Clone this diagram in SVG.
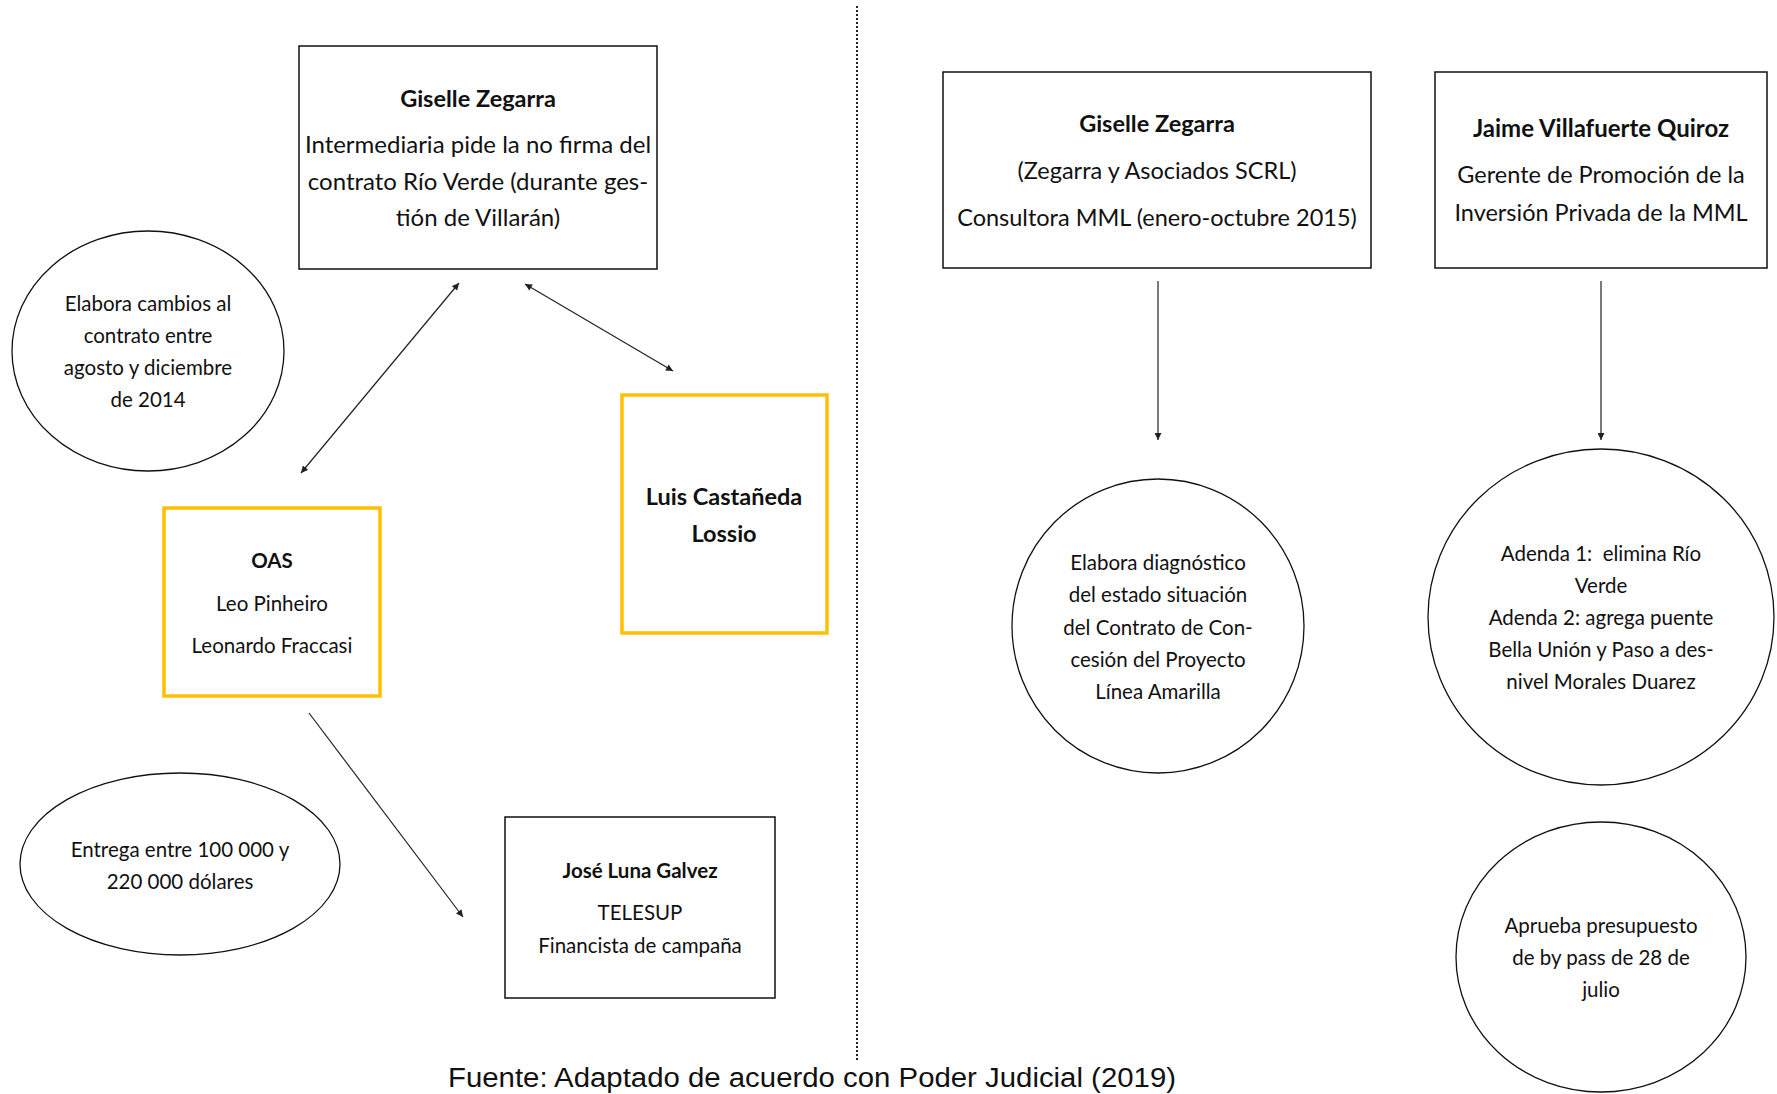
<svg xmlns="http://www.w3.org/2000/svg" width="1777" height="1094" viewBox="0 0 1777 1094">
  <style>
    text { font-family: Lato, "Open Sans", "Liberation Sans", sans-serif; fill: #111; text-anchor: middle; }
    .b { font-weight: bold; }
    .box { fill: #fff; stroke: #111; stroke-width: 1.5; }
    .ybox { fill: #fff; stroke: #FFC000; stroke-width: 3.5; }
    .ell { fill: #fff; stroke: #111; stroke-width: 1.3; }
    .con { fill: none; stroke: #222; stroke-width: 1.2; }
    .t24 { font-size: 24px; }
    .t235 { font-size: 23.5px; }
    .t20 { font-size: 20.5px; }
  </style>
  <defs>
    <marker id="ah" viewBox="0 0 10 10" refX="10" refY="5" markerWidth="8" markerHeight="7" markerUnits="userSpaceOnUse" orient="auto-start-reverse">
      <path d="M0,0 L10,5 L0,10 z" fill="#222"/>
    </marker>
  </defs>
  <rect width="1777" height="1094" fill="#fff"/>

  <!-- divider -->
  <line x1="857" y1="6" x2="857" y2="1060" stroke="#222" stroke-width="2" stroke-dasharray="2 2"/>

  <g id="connectors">
    <line class="con" x1="459" y1="283" x2="301" y2="473" marker-start="url(#ah)" marker-end="url(#ah)"/>
    <line class="con" x1="525" y1="284" x2="673" y2="371" marker-start="url(#ah)" marker-end="url(#ah)"/>
    <line class="con" x1="309" y1="713" x2="463" y2="917" marker-end="url(#ah)"/>
    <line class="con" x1="1158" y1="281" x2="1158" y2="440" marker-end="url(#ah)"/>
    <line class="con" x1="1601" y1="281" x2="1601" y2="440" marker-end="url(#ah)"/>
  </g>

  <g id="giselle-left">
    <rect class="box" x="299" y="46" width="358" height="223"/>
    <text class="b t235" x="478" y="107">Giselle Zegarra</text>
    <text class="t24" x="478" y="153">Intermediaria pide la no firma del</text>
    <text class="t24" x="478" y="190">contrato Río Verde (durante ges-</text>
    <text class="t24" x="478" y="226">tión de Villarán)</text>
  </g>

  <g id="elabora-cambios">
    <ellipse class="ell" cx="148" cy="351" rx="136" ry="120"/>
    <text class="t20" x="148" y="311">Elabora cambios al</text>
    <text class="t20" x="148" y="343">contrato entre</text>
    <text class="t20" x="148" y="375">agosto y diciembre</text>
    <text class="t20" x="148" y="407">de 2014</text>
  </g>

  <g id="oas">
    <rect class="ybox" x="164" y="508" width="216" height="188"/>
    <text class="b t20" x="272" y="568">OAS</text>
    <text class="t20" x="272" y="611">Leo Pinheiro</text>
    <text class="t20" x="272" y="653">Leonardo Fraccasi</text>
  </g>

  <g id="castaneda">
    <rect class="ybox" x="622" y="395" width="205" height="238"/>
    <text class="b t235" x="724" y="505">Luis Castañeda</text>
    <text class="b t235" x="724" y="542">Lossio</text>
  </g>

  <g id="entrega">
    <ellipse class="ell" cx="180" cy="864" rx="160" ry="91"/>
    <text class="t20" x="180" y="857">Entrega entre 100 000 y</text>
    <text class="t20" x="180" y="889">220 000 dólares</text>
  </g>

  <g id="jose-luna">
    <rect class="box" x="505" y="817" width="270" height="181"/>
    <text class="b t20" x="640" y="878">José Luna Galvez</text>
    <text class="t20" x="640" y="920">TELESUP</text>
    <text class="t20" x="640" y="953">Financista de campaña</text>
  </g>

  <g id="giselle-right">
    <rect class="box" x="943" y="72" width="428" height="196"/>
    <text class="b t235" x="1157" y="132">Giselle Zegarra</text>
    <text class="t235" x="1157" y="179">(Zegarra y Asociados SCRL)</text>
    <text class="t235" x="1157" y="226">Consultora MML (enero-octubre 2015)</text>
  </g>

  <g id="jaime">
    <rect class="box" x="1435" y="72" width="332" height="196"/>
    <text class="b t24" x="1601" y="137">Jaime Villafuerte Quiroz</text>
    <text class="t235" x="1601" y="183">Gerente de Promoción de la</text>
    <text class="t235" x="1601" y="221">Inversión Privada de la MML</text>
  </g>

  <g id="diagnostico">
    <ellipse class="ell" cx="1158" cy="626" rx="146" ry="147"/>
    <text class="t20" x="1158" y="570">Elabora diagnóstico</text>
    <text class="t20" x="1158" y="602">del estado situación</text>
    <text class="t20" x="1158" y="635">del Contrato de Con-</text>
    <text class="t20" x="1158" y="667">cesión del Proyecto</text>
    <text class="t20" x="1158" y="699">Línea Amarilla</text>
  </g>

  <g id="adendas">
    <ellipse class="ell" cx="1601" cy="617" rx="173" ry="168"/>
    <text class="t20" x="1601" y="561" xml:space="preserve">Adenda 1:  elimina Río</text>
    <text class="t20" x="1601" y="593">Verde</text>
    <text class="t20" x="1601" y="625">Adenda 2: agrega puente</text>
    <text class="t20" x="1601" y="657">Bella Unión y Paso a des-</text>
    <text class="t20" x="1601" y="689">nivel Morales Duarez</text>
  </g>

  <g id="aprueba">
    <ellipse class="ell" cx="1601" cy="957" rx="145" ry="135"/>
    <text class="t20" x="1601" y="933">Aprueba presupuesto</text>
    <text class="t20" x="1601" y="965">de by pass de 28 de</text>
    <text class="t20" x="1601" y="997">julio</text>
  </g>

  <text x="812" y="1087" style="font-family: 'Liberation Sans', Arial, sans-serif; font-size: 27px;" textLength="728" lengthAdjust="spacingAndGlyphs">Fuente: Adaptado de acuerdo con Poder Judicial (2019)</text>
</svg>
